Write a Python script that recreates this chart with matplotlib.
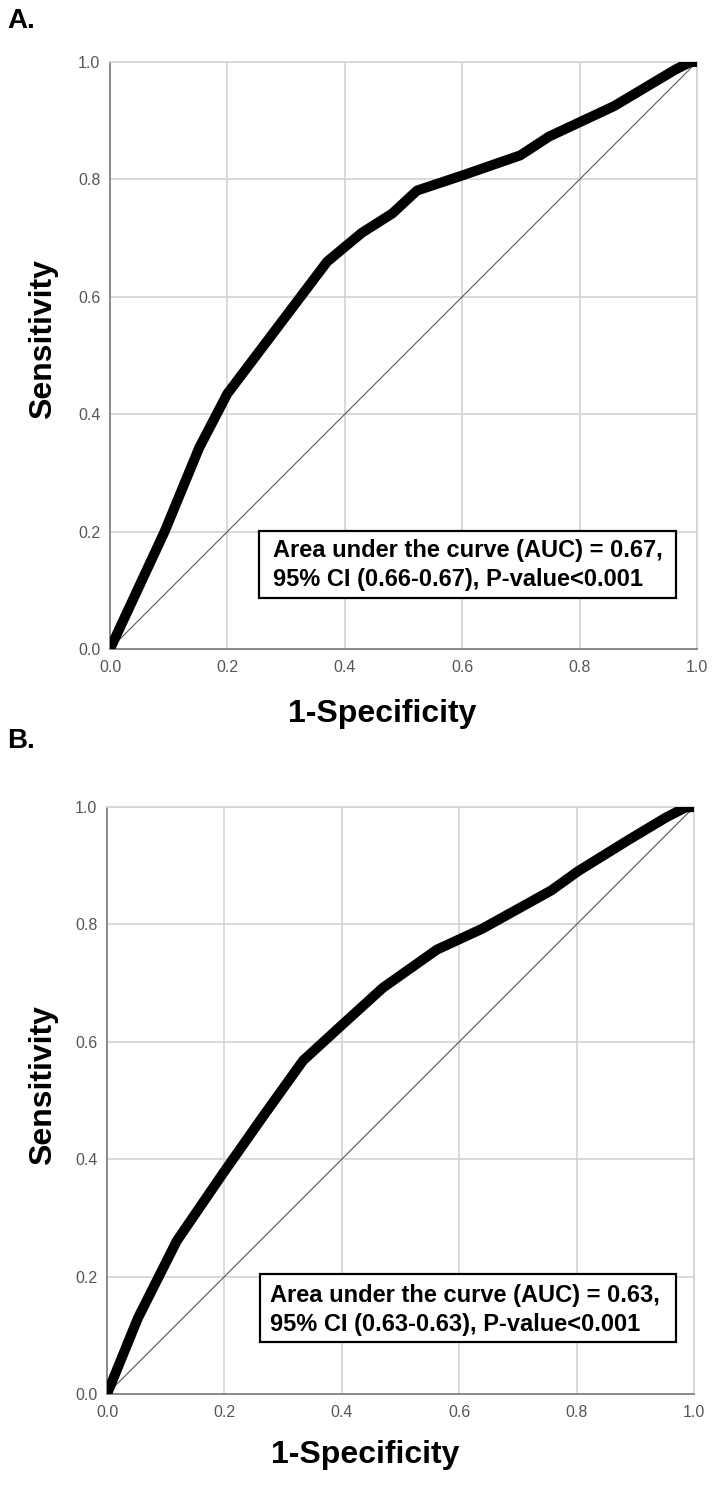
import matplotlib
matplotlib.use("Agg")
import matplotlib.pyplot as plt
from matplotlib.patches import Rectangle

plt.rcParams['font.family'] = ['Liberation Sans', 'DejaVu Sans']

# ---- data ----
fpr_a = [0.0, 0.093, 0.152, 0.200, 0.370, 0.429, 0.481, 0.523, 0.601, 0.699, 0.748, 0.859, 0.963, 0.989, 1.0]
tpr_a = [0.0, 0.200, 0.343, 0.435, 0.660, 0.709, 0.742, 0.781, 0.807, 0.841, 0.873, 0.925, 0.987, 1.000, 1.0]

fpr_b = [0.0, 0.053, 0.119, 0.197, 0.268, 0.334, 0.405, 0.470, 0.562, 0.640, 0.757, 0.803, 0.887, 0.952, 0.985, 1.0]
tpr_b = [0.0, 0.130, 0.261, 0.375, 0.476, 0.568, 0.633, 0.692, 0.757, 0.793, 0.858, 0.891, 0.943, 0.982, 0.999, 1.0]

ticks = [0.0, 0.2, 0.4, 0.6, 0.8, 1.0]
tick_labels = ["0.0", "0.2", "0.4", "0.6", "0.8", "1.0"]

panel_labels = ["A.", "B."]
annot_a = ["Area under the curve (AUC) = 0.67,", "95% CI (0.66-0.67), P-value<0.001"]
annot_b = ["Area under the curve (AUC) = 0.63,", "95% CI (0.63-0.63), P-value<0.001"]

W, H = 724, 1499
fig = plt.figure(figsize=(W / 100, H / 100), dpi=100)


def fx(px):
    return px / W


def fy(py):
    return 1 - py / H


def make_panel(left_px, top_px, bottom_px, right_px, fpr, tpr, annot, box):
    ax = fig.add_axes([fx(left_px), fy(bottom_px), (right_px - left_px) / W, (bottom_px - top_px) / H])
    ax.set_xlim(0, 1)
    ax.set_ylim(0, 1)
    ax.set_xticks(ticks)
    ax.set_xticklabels(tick_labels)
    ax.set_yticks(ticks)
    ax.set_yticklabels(tick_labels)
    ax.tick_params(length=0, labelsize=11.5, colors='#555555', pad=8)
    ax.tick_params(axis='y', pad=7)
    ax.grid(True, color='#d3d3d3', lw=1.2)
    ax.set_axisbelow(True)
    for s in ['top', 'right']:
        ax.spines[s].set_color('#d3d3d3')
        ax.spines[s].set_linewidth(1.2)
    for s in ['left', 'bottom']:
        ax.spines[s].set_color('#8a8a8a')
        ax.spines[s].set_linewidth(1.4)
    ax.plot([0, 1], [0, 1], color='#555555', lw=0.8, zorder=2)
    ax.plot(fpr, tpr, color='black', lw=7.2, solid_joinstyle='round', solid_capstyle='butt', zorder=3)
    x0, y0, x1, y1 = box
    ax.add_patch(Rectangle((x0, y0), x1 - x0, y1 - y0, transform=ax.transAxes,
                           facecolor='white', edgecolor='black', lw=1.6, zorder=4))
    ax.text(0.277, 0.157, annot[0], transform=ax.transAxes, fontsize=17, fontweight='bold',
            va='baseline', ha='left', zorder=5)
    ax.text(0.277, 0.108, annot[1], transform=ax.transAxes, fontsize=17, fontweight='bold',
            va='baseline', ha='left', zorder=5)
    return ax


make_panel(110, 62, 649, 697, fpr_a, tpr_a, annot_a, (0.254, 0.087, 0.964, 0.201))
make_panel(107, 807, 1394, 694, fpr_b, tpr_b, annot_b, (0.260, 0.088, 0.969, 0.204))

# panel letters
fig.text(fx(7), fy(28), panel_labels[0], fontsize=20, fontweight='bold', va='baseline', ha='left')
fig.text(fx(7), fy(748), panel_labels[1], fontsize=20, fontweight='bold', va='baseline', ha='left')

# axis labels
fig.text(fx(382), fy(722), "1-Specificity", fontsize=23, fontweight='bold', va='baseline', ha='center')
fig.text(fx(365), fy(1463), "1-Specificity", fontsize=23, fontweight='bold', va='baseline', ha='center')
fig.text(fx(43), fy(339), "Sensitivity", fontsize=23, fontweight='bold', va='center', ha='center', rotation=90)
fig.text(fx(43), fy(1085), "Sensitivity", fontsize=23, fontweight='bold', va='center', ha='center', rotation=90)

fig.savefig("out.png", dpi=100, facecolor='white')
